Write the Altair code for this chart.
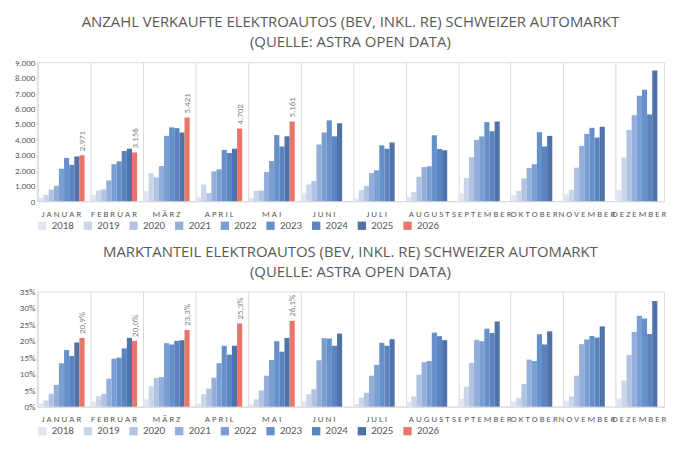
import altair as alt
import pandas as pd

months = ["JANUAR", "FEBRUAR", "MÄRZ", "APRIL", "MAI", "JUNI", "JULI",
          "AUGUST", "SEPTEMBER", "OKTOBER", "NOVEMBER", "DEZEMBER"]
years = ["2018", "2019", "2020", "2021", "2022", "2023", "2024", "2025", "2026"]
colors = ["#dfe6f1", "#c9d6ea", "#b0c3e2", "#93aedb", "#7a9dd2",
          "#6690ca", "#5a83bf", "#4f72a8", "#e8776b"]

# units sold per month, one list per year
sales = {
    "2018": [220, 400, 650, 280, 220, 540, 170, 280, 500, 390, 450, 740],
    "2019": [400, 700, 1820, 1080, 670, 1080, 720, 590, 1500, 670, 740, 2820],
    "2020": [750, 750, 1540, 520, 690, 1300, 980, 1580, 2840, 1480, 2170, 4620],
    "2021": [1000, 1350, 2280, 1930, 1890, 3670, 1820, 2210, 3970, 2150, 3580, 5570],
    "2022": [2100, 2400, 4230, 2060, 2600, 4450, 2000, 2260, 4190, 2390, 4360, 6830],
    "2023": [2800, 2580, 4780, 3320, 4280, 5230, 3620, 4270, 5120, 4470, 4750, 7220],
    "2024": [2350, 3250, 4730, 3120, 3540, 4200, 3400, 3380, 4530, 3540, 4120, 5620],
    "2025": [2900, 3400, 4450, 3400, 4200, 5050, 3800, 3300, 5160, 4230, 4820, 8460],
    "2026": [2971, 3156, 5421, 4702, 5161],
}
sales_labels_2026 = ["2.971", "3.156", "5.421", "4.702", "5.161"]

# market share in percent
share = {
    "2018": [0.9, 1.6, 2.2, 0.9, 0.7, 1.6, 0.8, 1.4, 2.4, 1.6, 1.8, 2.5],
    "2019": [1.9, 3.2, 6.2, 3.8, 2.2, 3.8, 2.8, 3.1, 6.1, 2.6, 3.1, 7.9],
    "2020": [3.9, 3.9, 8.7, 5.5, 4.9, 5.3, 4.2, 9.7, 13.3, 6.9, 9.4, 15.7],
    "2021": [6.6, 8.5, 9.0, 8.8, 9.4, 14.1, 9.4, 13.5, 20.3, 14.3, 19.0, 22.7],
    "2022": [13.2, 14.6, 19.3, 13.2, 14.2, 20.8, 12.7, 13.9, 19.9, 13.9, 20.4, 27.6],
    "2023": [17.2, 14.9, 18.9, 18.5, 19.9, 20.7, 19.4, 22.5, 23.7, 22.0, 21.5, 26.8],
    "2024": [15.4, 17.7, 20.0, 15.8, 16.7, 18.5, 18.5, 21.4, 22.4, 18.9, 21.0, 22.1],
    "2025": [19.5, 20.9, 20.2, 18.5, 20.9, 22.2, 20.5, 20.2, 25.9, 22.9, 24.4, 32.1],
    "2026": [20.9, 20.0, 23.3, 25.3, 26.1],
}
share_labels_2026 = ["20,9%", "20,0%", "23,3%", "25,3%", "26,1%"]


def to_frame(values, labels, scale=1.0):
    rows = []
    for y in years:
        for i, v in enumerate(values[y]):
            lab = labels[i] if y == "2026" else ""
            rows.append({"month": months[i], "year": y, "value": v * scale, "label": lab})
    return pd.DataFrame(rows)


month_label = "join(split(datum.label, ''), ' ')"
color = alt.Color("year:N", scale=alt.Scale(domain=years, range=colors),
                  legend=alt.Legend(orient="bottom", direction="horizontal", title=None,
                                    symbolType="square", symbolSize=70, labelFontSize=11,
                                    labelColor="#595959", columnPadding=8, offset=2))


def panel(df, title, height, yaxis, ymax):
    x = alt.X("month:N", sort=months, title=None,
              scale=alt.Scale(paddingInner=0.12, paddingOuter=0.03),
              axis=alt.Axis(labelAngle=0, ticks=False, grid=True, gridColor="#d9d9d9",
                            bandPosition=0, labelExpr=month_label,
                            labelFontSize=9, labelColor="#595959", domainColor="#d9d9d9",
                            labelPadding=8))
    y = alt.Y("value:Q", title=None, scale=alt.Scale(domain=[0, ymax], nice=False), axis=yaxis)
    base = alt.Chart(df).encode(x=x, xOffset=alt.XOffset("year:N", sort=years), y=y)
    bars = base.mark_bar().encode(color=color)
    text = base.mark_text(angle=270, align="left", dx=4, dy=0, fontSize=9,
                          color="#7f7f7f").encode(text="label:N")
    return alt.layer(bars, text).properties(
        width=632, height=height,
        title=alt.Title(title, fontSize=15, fontWeight="normal", color="#595959",
                        font="Open Sans", lineHeight=20, offset=8))


top = panel(
    to_frame(sales, sales_labels_2026),
    ["ANZAHL VERKAUFTE ELEKTROAUTOS (BEV, INKL. RE) SCHWEIZER AUTOMARKT",
     "(QUELLE: ASTRA OPEN DATA)"],
    140,
    alt.Axis(values=list(range(0, 9001, 1000)), grid=False, domain=False, ticks=False,
             labelExpr="replace(format(datum.value, ','), ',', '.')",
             labelFontSize=9, labelColor="#595959"),
    9000,
)
bottom = panel(
    to_frame(share, share_labels_2026, 0.01),
    ["MARKTANTEIL ELEKTROAUTOS (BEV, INKL. RE) SCHWEIZER AUTOMARKT",
     "(QUELLE: ASTRA OPEN DATA)"],
    116,
    alt.Axis(values=[0, 0.05, 0.1, 0.15, 0.2, 0.25, 0.3, 0.35], format=".0%", grid=False,
             domain=False, ticks=False, labelFontSize=9, labelColor="#595959"),
    0.35,
)

chart = (
    alt.vconcat(top, bottom, spacing=12)
    .resolve_legend(color="independent")
    .configure_view(stroke=None)
    .configure(font="Calibri, Liberation Sans, sans-serif")
)
chart.save("out.html", embed_options={"renderer": "svg", "actions": False})
